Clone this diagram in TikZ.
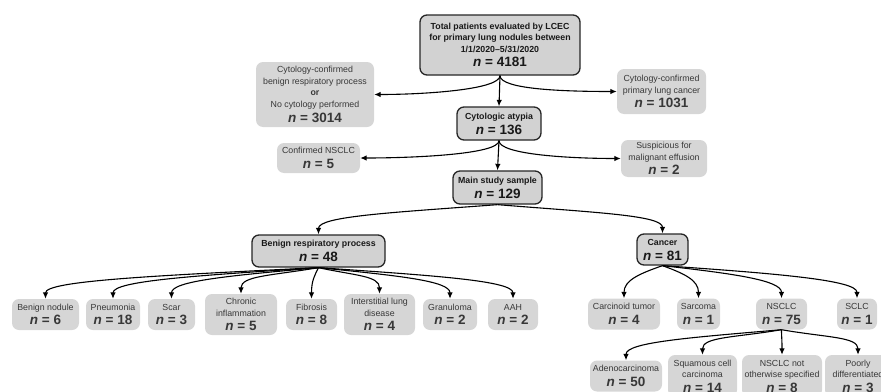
\documentclass[tikz,border=0pt]{standalone}
\usepackage{fontspec}
\setmainfont{Liberation Sans}
\usetikzlibrary{arrows.meta}
\newcommand{\nval}[1]{{\fontsize{13.5}{15}\selectfont\bfseries\itshape n\upshape\ = #1}}

\begin{document}
\begin{tikzpicture}[x=1pt,y=-1pt,
	mainbox/.style={draw=black!85, line width=1.3pt, fill=gray!35, rounded corners=7pt, align=center, inner sep=0pt, text=black!90, font=\fontsize{8.8}{11.5}\selectfont\bfseries},
	sidebox/.style={fill=gray!32, rounded corners=7pt, align=center, inner sep=0pt, text=black!78, font=\fontsize{8.8}{11.5}\selectfont},
	sz/.style 2 args={minimum width=#1pt, minimum height=#2pt},
	arr/.style={-{Latex[length=6.5pt,width=5.5pt]}, line width=1.1pt}]
		\useasboundingbox (0,0) rectangle (881,391);
		\clip (0,0) rectangle (881,391);
		%Screening steps
		\node[mainbox, sz={160}{60}] (total) at (500,45) {Total patients evaluated by LCEC\\for primary lung nodules between\\1/1/2020--5/31/2020\\[3pt]\nval{4181}};
		\node[sidebox, sz={118}{65}] (cytob) at (315,94.5) {Cytology-confirmed\\benign respiratory process\\\textbf{or}\\No cytology performed\\[3.5pt]\nval{3014}};
		\node[sidebox, sz={89}{45}] (cytoc) at (661.5,91.5) {Cytology-confirmed\\primary lung cancer\\[3pt]\nval{1031}};
		\node[mainbox, sz={84}{33}] (atyp) at (499,123.5) {Cytologic atypia\\[3.5pt]\nval{136}};
		\node[sidebox, sz={83}{30}] (conf) at (318.5,158) {Confirmed NSCLC\\[3pt]\nval{5}};
		\node[sidebox, sz={86}{37}] (susp) at (664,158.5) {Suspicious for\\malignant effusion\\[3pt]\nval{2}};
		\node[mainbox, sz={89}{33}] (study) at (497.5,187.5) {Main study sample\\[3.5pt]\nval{129}};
		%Final diagnosis
		\node[mainbox, sz={133}{32}] (benign) at (318.5,251) {Benign respiratory process\\[3.5pt]\nval{48}};
		\node[mainbox, sz={51}{31}] (cancer) at (662.5,249.5) {Cancer\\[3.5pt]\nval{81}};
		\node[sidebox, sz={67}{31}] (bnod) at (45.5,314.5) {Benign nodule\\[3pt]\nval{6}};
		\node[sidebox, sz={54}{31}] (pneu) at (113,314.5) {Pneumonia\\[3pt]\nval{18}};
		\node[sidebox, sz={47}{31}] (scar) at (171.5,314.5) {Scar\\[3pt]\nval{3}};
		\node[sidebox, sz={72}{41}] (chron) at (241,314.5) {Chronic\\inflammation\\[3pt]\nval{5}};
		\node[sidebox, sz={51}{31}] (fibr) at (311.5,314.5) {Fibrosis\\[3pt]\nval{8}};
		\node[sidebox, sz={71}{41}] (ild) at (379.5,314.5) {Interstitial lung\\disease\\[3pt]\nval{4}};
		\node[sidebox, sz={54}{31}] (gran) at (450,314.5) {Granuloma\\[3pt]\nval{2}};
		\node[sidebox, sz={50}{31}] (aah) at (513,314.5) {AAH\\[3pt]\nval{2}};
		\node[sidebox, sz={72}{31}] (carc) at (624,314) {Carcinoid tumor\\[3pt]\nval{4}};
		\node[sidebox, sz={43}{31}] (sarc) at (698.5,314) {Sarcoma\\[3pt]\nval{1}};
		\node[sidebox, sz={51}{31}] (nsclc) at (781.5,314) {NSCLC\\[3pt]\nval{75}};
		\node[sidebox, sz={40}{31}] (sclc) at (857,314) {SCLC\\[3pt]\nval{1}};
		\node[sidebox, sz={72}{31}] (adeno) at (626,376) {Adenocarcinoma\\[3pt]\nval{50}};
		\node[sidebox, sz={69}{42}] (squam) at (702.5,376) {Squamous cell\\carcinoma\\[3pt]\nval{14}};
		\node[sidebox, sz={80}{42}] (nos) at (782,376) {NSCLC not\\otherwise specified\\[3pt]\nval{8}};
		\node[sidebox, sz={66}{42}] (poor) at (858,376) {Poorly\\differentiated\\[3pt]\nval{3}};
		%Arrows
		\draw[arr] (total.south) .. controls +(0,14) and +(50,0) .. (cytob.east);
		\draw[arr] (total.south) -- (atyp.north);
		\draw[arr] (total.south) .. controls +(0,14) and +(-50,0) .. (cytoc.west);
		\draw[arr] (atyp.south) .. controls +(0,14) and +(50,0) .. (conf.east);
		\draw[arr] (atyp.south) -- (study.north);
		\draw[arr] (atyp.south) .. controls +(0,14) and +(-50,0) .. (susp.west);
		\foreach \c/\dx in {benign/-107, cancer/99}
		\draw[arr] (study.south) .. controls +(\dx,8) and +(0,-18) .. (\c.north);
		\foreach \c/\dx in {bnod/-164, pneu/-123, scar/-88, chron/-47, fibr/-4, ild/37, gran/79, aah/117}
		\draw[arr] (benign.south) .. controls +(\dx,8) and +(0,-18) .. (\c.north);
		\foreach \c/\dx in {carc/-23, sarc/22, nsclc/71, sclc/117}
		\draw[arr] (cancer.south) .. controls +(\dx,8) and +(0,-18) .. (\c.north);
		\foreach \c/\dx in {adeno/-93, squam/-47, nos/0, poor/46}
		\draw[arr] (nsclc.south) .. controls +(\dx,8) and +(0,-18) .. (\c.north);
\end{tikzpicture}
\end{document}
